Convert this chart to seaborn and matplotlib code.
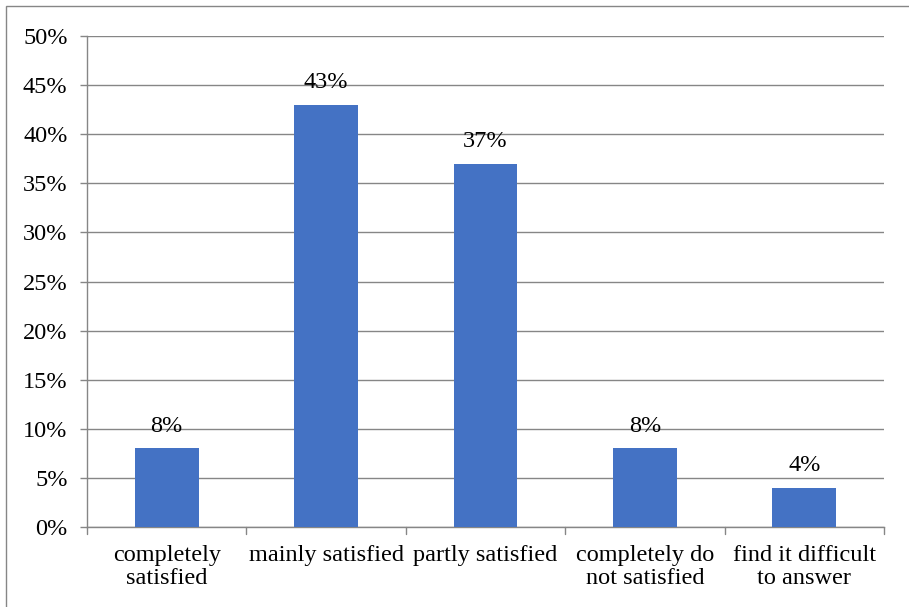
import matplotlib
matplotlib.use("Agg")
import matplotlib.pyplot as plt
import seaborn as sns
import pandas as pd
from matplotlib.patches import Rectangle

categories = ["completely\nsatisfied", "mainly satisfied", "partly satisfied",
              "completely do\nnot satisfied", "find it difficult\nto answer"]
values = [8, 43, 37, 8, 4]
value_labels = ["8%", "43%", "37%", "8%", "4%"]
y_ticks = [0, 5, 10, 15, 20, 25, 30, 35, 40, 45, 50]
y_tick_labels = [f"{t}%" for t in y_ticks]

sns.set_theme(style="white")
plt.rcParams['font.family'] = ['Liberation Serif', 'DejaVu Serif']

FS = 17.5
df = pd.DataFrame({"cat": categories, "val": values})

fig = plt.figure(figsize=(9.09, 6.07), dpi=100)
ax = fig.add_axes([87/909, 1-527/607, (884-87)/909, (527-36)/607])

sns.barplot(data=df, x="cat", y="val", color="#4472C4", width=0.40,
            saturation=1, linewidth=0, ax=ax, zorder=3)

ax.set_ylim(0, 50)
ax.set_xlim(-0.5, len(categories)-0.5)
ax.set_yticks(y_ticks)
ax.set_yticklabels(y_tick_labels, fontsize=FS, color="black")
ax.set_xticks(range(len(categories)))
ax.set_xticklabels(categories, fontsize=FS, color="black", linespacing=1.15)
ax.set_xlabel("")
ax.set_ylabel("")
ax.grid(axis="y", color="#868686", linewidth=1, zorder=0)
ax.tick_params(axis="y", length=5, width=1, color="#868686", pad=9, left=True)
ax.tick_params(axis="x", length=0, pad=13)
# boundary ticks on x axis
for b in [i - 0.5 for i in range(len(categories)+1)]:
    ax.plot([b, b], [0, -0.014], transform=ax.get_xaxis_transform(),
            color="#868686", lw=1, clip_on=False)
for s in ["top", "right"]:
    ax.spines[s].set_visible(False)
for s in ["left", "bottom"]:
    ax.spines[s].set_color("#868686")
    ax.spines[s].set_linewidth(1)

for i, (v, lab) in enumerate(zip(values, value_labels)):
    ax.annotate(lab, (i, v), xytext=(0, 12), textcoords="offset points",
                ha="center", va="baseline", fontsize=FS, color="black")

fig.patches.append(Rectangle((6/909, -0.5), 2, 1.5 - 6/607, transform=fig.transFigure,
                             fill=False, edgecolor="#868686", lw=1))

fig.savefig("out.png", dpi=100)
